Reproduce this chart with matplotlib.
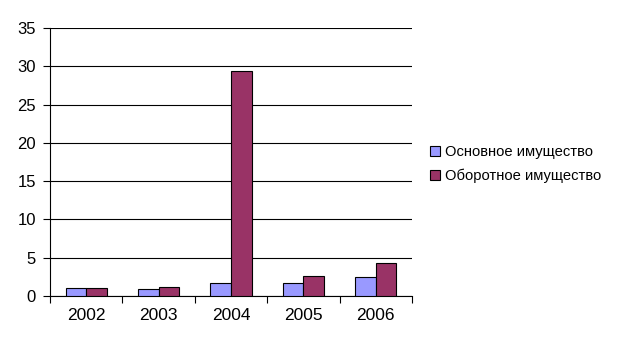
import numpy as np
import matplotlib.pyplot as plt

plt.rcParams['font.family'] = ['Liberation Sans', 'DejaVu Sans']

years = ['2002', '2003', '2004', '2005', '2006']
fixed_assets = [1.0, 0.87, 1.65, 1.65, 2.44]      # Основное имущество
current_assets = [1.0, 1.13, 29.4, 2.57, 4.27]    # Оборотное имущество

fig = plt.figure(figsize=(6.21, 3.48), dpi=100)
ax = fig.add_axes([50/621, 52/348, 362/621, 268/348])

x = np.arange(len(years))
w = 1 / 3.5
ax.bar(x - w/2, fixed_assets, w, color='#9999FF', edgecolor='black', linewidth=0.8,
       label='Основное имущество', zorder=3)
ax.bar(x + w/2, current_assets, w, color='#993366', edgecolor='black', linewidth=0.8,
       label='Оборотное имущество', zorder=3)

ax.set_xlim(-0.5, len(years) - 0.5)
ax.set_ylim(0, 35)
ax.set_yticks(range(0, 36, 5))
ax.yaxis.grid(True, color='black', linewidth=0.8, zorder=0)

# category labels centered, tick marks on the boundaries
ax.set_xticks(x)
ax.set_xticklabels(years)
ax.tick_params(axis='x', length=0, pad=9, labelsize=12.5)
ax.set_xticks(np.arange(-0.5, len(years)), minor=True)
ax.tick_params(axis='x', which='minor', length=5, direction='out', width=0.8)
ax.tick_params(axis='y', length=5, width=0.8, labelsize=12, pad=5)

for s in ['top', 'right']:
    ax.spines[s].set_visible(False)
for s in ['left', 'bottom']:
    ax.spines[s].set_linewidth(0.8)

fig.legend(loc='center left', bbox_to_anchor=(417/621, 1 - 164/348), frameon=False,
           fontsize=10.6, handlelength=0.65, handleheight=0.65, handletextpad=0.35,
           labelspacing=0.65)

fig.savefig('out.png', dpi=100)
